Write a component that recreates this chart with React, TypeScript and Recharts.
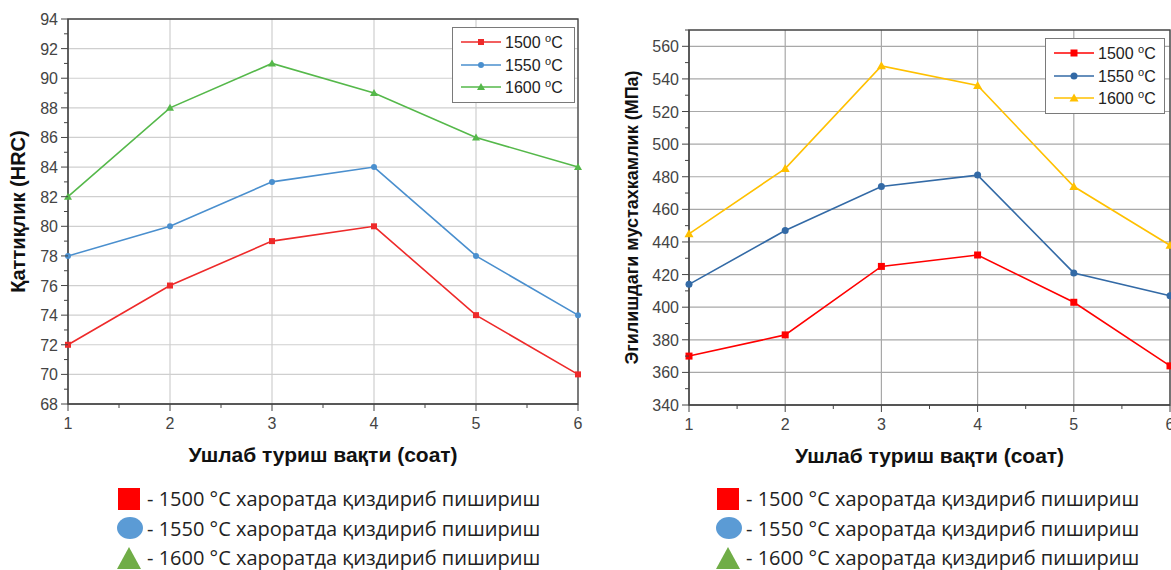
import React from "react";
import {
  LineChart,
  Line,
  XAxis,
  YAxis,
  CartesianGrid,
  ReferenceArea,
  Legend,
} from "recharts";

// holding time, hours
const hours = [1, 2, 3, 4, 5, 6];

// hardness, HRC
const hardness1500 = [72, 76, 79, 80, 74, 70];
const hardness1550 = [78, 80, 83, 84, 78, 74];
const hardness1600 = [82, 88, 91, 89, 86, 84];

// bending strength, MPa
const strength1500 = [370, 383, 425, 432, 403, 364];
const strength1550 = [414, 447, 474, 481, 421, 407];
const strength1600 = [445, 485, 548, 536, 474, 438];

const seriesNames = ["1500", "1550", "1600"];
const markerShapes = ["square", "circle", "triangle"];

const hardnessTicks = [68, 70, 72, 74, 76, 78, 80, 82, 84, 86, 88, 90, 92, 94];
const strengthTicks = [340, 360, 380, 400, 420, 440, 460, 480, 500, 520, 540, 560];

const hardnessTitle = "Қаттиқлик (HRC)";
const strengthTitle = "Эгилишдаги мустахкамлик (МПа)";
const timeTitle = "Ушлаб туриш вақти (соат)";
const bottomLabels = [
  "- 1500 °C хароратда қиздириб пишириш",
  "- 1550 °C хароратда қиздириб пишириш",
  "- 1600 °C хароратда қиздириб пишириш",
];

const FONT = "'Liberation Sans', Arial, sans-serif";

const buildRows = (a: number[], b: number[], c: number[]) =>
  hours.map((h, i) => ({ hour: h, s1500: a[i], s1550: b[i], s1600: c[i] }));

const hardnessData = buildRows(hardness1500, hardness1550, hardness1600);
const strengthData = buildRows(strength1500, strength1550, strength1600);

const withMinor = (ticks: number[]) => {
  const out: number[] = [];
  ticks.forEach((t, i) => {
    out.push(t);
    if (i < ticks.length - 1) out.push((t + ticks[i + 1]) / 2);
  });
  return out;
};

function Marker({ cx, cy, shape, color, size }: any) {
  if (cx == null || cy == null) return null;
  const h = size / 2;
  if (shape === "square")
    return <rect x={cx - h} y={cy - h} width={size} height={size} fill={color} />;
  if (shape === "circle") return <circle cx={cx} cy={cy} r={h} fill={color} />;
  return (
    <polygon
      points={`${cx},${cy - h - 1} ${cx - h - 1},${cy + h} ${cx + h + 1},${cy + h}`}
      fill={color}
    />
  );
}

function YTick({ x, y, payload, majors }: any) {
  const major = majors.includes(payload.value);
  return (
    <g>
      <line x1={x - (major ? 7 : 4)} x2={x} y1={y} y2={y} stroke="#444" />
      {major && (
        <text x={x - 10} y={y} dy={6} textAnchor="end" fontSize={16} fill="#444" fontFamily={FONT}>
          {payload.value}
        </text>
      )}
    </g>
  );
}

function XTick({ x, y, payload }: any) {
  const major = Number.isInteger(payload.value);
  return (
    <g>
      <line x1={x} x2={x} y1={y} y2={y + (major ? 7 : 4)} stroke="#444" />
      {major && (
        <text x={x} y={y + 25} textAnchor="middle" fontSize={16} fill="#444" fontFamily={FONT}>
          {payload.value}
        </text>
      )}
    </g>
  );
}

function InsideLegend({ colors, size, width }: any) {
  return (
    <div
      style={{
        width,
        border: "1px solid #7a7a7a",
        background: "#fff",
        padding: "3px 0 3px 8px",
        fontFamily: FONT,
        fontSize: 16,
        color: "#222",
        boxSizing: "border-box",
      }}
    >
      {seriesNames.map((n, i) => (
        <div key={n} style={{ display: "flex", alignItems: "center", height: 22.5 }}>
          <svg width={40} height={14} style={{ marginRight: 4 }}>
            <line x1={0} x2={40} y1={7} y2={7} stroke={colors[i]} strokeWidth={1.5} />
            <Marker cx={20} cy={7} shape={markerShapes[i]} color={colors[i]} size={size} />
          </svg>
          <span>
            {n} <sup style={{ fontSize: 11 }}>o</sup>C
          </span>
        </div>
      ))}
    </div>
  );
}

function Panel({
  data,
  yTicks,
  yDomain,
  yTitle,
  yTitleSize,
  colors,
  gridColor,
  markerSize,
  width,
  margin,
  yAxisWidth,
  yTitleOffset,
  legendPos,
  legendWidth,
}: any) {
  const keys = ["s1500", "s1550", "s1600"];
  return (
    <LineChart width={width} height={470} data={data} margin={margin}>
      <CartesianGrid
        stroke={gridColor}
        strokeWidth={1.2}
        horizontalValues={yTicks}
        verticalValues={hours}
      />
      <XAxis
        dataKey="hour"
        type="number"
        domain={[1, 6]}
        ticks={withMinor(hours)}
        interval={0}
        tickSize={0}
        tickMargin={0}
        tickLine={false}
        tick={<XTick />}
        stroke="#444"
        height={65}
        label={{
          value: timeTitle,
          position: "insideBottom",
          offset: 7,
          fontSize: 21,
          fontWeight: 700,
          fill: "#111",
          fontFamily: FONT,
        }}
      />
      <YAxis
        type="number"
        domain={yDomain}
        ticks={withMinor(yTicks).concat(yDomain[1] > yTicks[yTicks.length - 1] ? [yDomain[1]] : [])}
        interval={0}
        width={yAxisWidth}
        tickSize={0}
        tickMargin={0}
        tickLine={false}
        tick={<YTick majors={yTicks} />}
        stroke="#444"
        label={{
          value: yTitle,
          angle: -90,
          position: "insideLeft",
          offset: yTitleOffset,
          fontSize: yTitleSize,
          fontWeight: 700,
          fill: "#111",
          fontFamily: FONT,
          style: { textAnchor: "middle" },
        }}
      />
      <ReferenceArea
        x1={1}
        x2={6}
        y1={yDomain[0]}
        y2={yDomain[1]}
        fill="none"
        stroke="#444"
        strokeWidth={1.3}
      />
      {keys.map((k, i) => (
        <Line
          key={k}
          dataKey={k}
          name={seriesNames[i]}
          stroke={colors[i]}
          strokeWidth={1.6}
          isAnimationActive={false}
          dot={(p: any) => (
            <Marker
              key={`${k}-${p.index}`}
              cx={p.cx}
              cy={p.cy}
              shape={markerShapes[i]}
              color={colors[i]}
              size={markerSize}
            />
          )}
          activeDot={false}
        />
      ))}
      <Legend
        layout="vertical"
        align="center"
        verticalAlign="middle"
        wrapperStyle={{ left: legendPos[0], top: legendPos[1], width: legendWidth }}
        content={() => <InsideLegend colors={colors} size={markerSize} width={legendWidth} />}
      />
    </LineChart>
  );
}

function BottomLegend({ left, colors }: any) {
  return (
    <div
      style={{
        position: "absolute",
        left,
        top: 484,
        fontFamily: "'Open Sans', sans-serif",
        fontSize: 20,
        color: "#222",
        whiteSpace: "nowrap",
      }}
    >
      {bottomLabels.map((t, i) => (
        <div key={t} style={{ display: "flex", alignItems: "center", height: 29.5 }}>
          <svg width={28} height={24} style={{ marginRight: 2 }}>
            {i === 0 && <rect x={1} y={1} width={22} height={22} fill={colors[0]} />}
            {i === 1 && <ellipse cx={13} cy={12} rx={13} ry={11} fill={colors[1]} />}
            {i === 2 && <polygon points="12,1 0,23 24,23" fill={colors[2]} />}
          </svg>
          <span>{t}</span>
        </div>
      ))}
    </div>
  );
}

const leftColors = ["#ee2a2a", "#4a8fce", "#55b84a"];
const rightColors = ["#ff0000", "#336aa6", "#ffc000"];
const swatchColors = ["#ff0000", "#5b9bd5", "#70ad47"];

export default function App() {
  return (
    <div
      style={{
        position: "fixed",
        left: 0,
        top: 0,
        width: 1171,
        height: 570,
        overflow: "hidden",
        background: "#fff",
      }}
    >
      <div style={{ position: "absolute", left: 0, top: 0 }}>
        <Panel
          data={hardnessData}
          yTicks={hardnessTicks}
          yDomain={[68, 94]}
          yTitle={hardnessTitle}
          yTitleSize={20}
          yTitleOffset={10}
          colors={leftColors}
          gridColor="#cfcfcf"
          markerSize={6}
          width={600}
          margin={{ top: 19, right: 22, bottom: 1, left: 8 }}
          yAxisWidth={60}
          legendPos={[452, 27]}
          legendWidth={123}
        />
      </div>
      <div style={{ position: "absolute", left: 610, top: 0 }}>
        <Panel
          data={strengthData}
          yTicks={strengthTicks}
          yDomain={[340, 570]}
          yTitle={strengthTitle}
          yTitleSize={18}
          yTitleOffset={13}
          colors={rightColors}
          gridColor="#a8a8a8"
          markerSize={7}
          width={580}
          margin={{ top: 30, right: 20, bottom: 0, left: 9 }}
          yAxisWidth={70}
          legendPos={[435, 38]}
          legendWidth={120}
        />
      </div>
      <BottomLegend left={117} colors={swatchColors} />
      <BottomLegend left={716} colors={swatchColors} />
    </div>
  );
}
